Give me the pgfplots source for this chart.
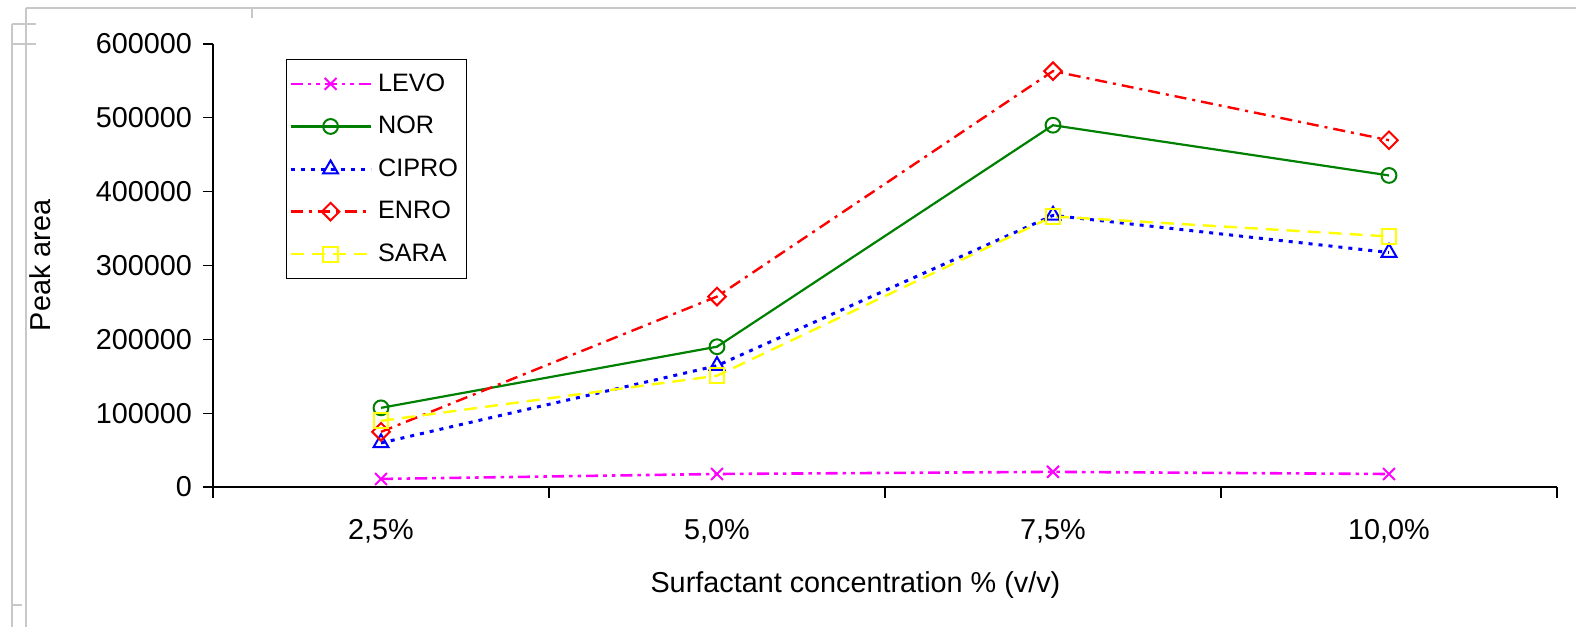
\documentclass[border=0pt]{standalone}
\usepackage{pgfplots}
\pgfplotsset{compat=1.18}
\usepackage{fontspec}
\setmainfont{Liberation Sans}
\definecolor{cMag}{HTML}{FF00FF}
\definecolor{cGreen}{HTML}{008000}
\definecolor{cBlue}{HTML}{0000FF}
\definecolor{cRed}{HTML}{FF0000}
\definecolor{cYel}{HTML}{FFFF00}
\definecolor{frame}{HTML}{C8C8C8}
\begin{document}
\begin{tikzpicture}
% frame artifacts (pixel units = 0.5pt)
\begin{scope}[x=0.5pt,y=0.5pt]
\draw[frame,line width=1pt] (26,619) -- (26,0);
\draw[frame,line width=1pt] (26,619) -- (1576,619);
\draw[frame,line width=1pt] (12,603) -- (12,0);
\draw[frame,line width=1pt] (12,603) -- (36,603);
\draw[frame,line width=1pt] (12,583) -- (36,583);
\draw[frame,line width=1pt] (12,22) -- (22,22);
\draw[frame,line width=1pt] (252,619) -- (252,609);
\end{scope}
\begin{axis}[
  at={(106.5pt,70pt)}, anchor=south west,
  scale only axis,
  width=672pt, height=221.5pt,
  xmin=-0.5, xmax=3.5, ymin=0, ymax=600000,
  axis x line*=bottom, axis y line*=left,
  axis line style={line width=0.6pt, -},
  every tick/.style={black, line width=0.6pt},
  xtick={0,1,2,3},
  xticklabels={{2,5\%},{5,0\%},{7,5\%},{10,0\%}},
  major x tick style={draw=none},
  minor xtick={-0.5,0.5,1.5,2.5,3.5},
  minor tick length=5.5pt,
  tick align=outside,
  major tick length=5pt,
  ytick={0,100000,200000,300000,400000,500000,600000},
  yticklabels={0,100000,200000,300000,400000,500000,600000},
  scaled y ticks=false,
  tick label style={font=\fontsize{14.4}{17}\selectfont},
  xticklabel style={yshift=-7.5pt},
  yticklabel style={xshift=-2pt},
  xlabel={Surfactant concentration \% (v/v)},
  ylabel={Peak area},
  label style={font=\fontsize{14.4}{17}\selectfont},
  xlabel style={at={(axis description cs:0.478,0)}, anchor=center, yshift=-49pt},
  ylabel style={at={(axis description cs:0,0.5)}, anchor=center, rotate=0, yshift=86.5pt},
  legend style={at={(axis description cs:0.054,0.966)}, anchor=north west,
    draw=black, line width=0.5pt, fill=white,
    font=\fontsize{12.6}{15}\selectfont,
    inner xsep=1.5pt, inner ysep=5pt, row sep=7pt,
    nodes={inner xsep=3pt}},
  legend cell align=left,
  legend image code/.code={\draw[mark repeat=2,mark phase=2,#1] plot coordinates {(0pt,0pt) (20pt,0pt) (40pt,0pt)};},
  clip=false,
]
\addplot[cMag, line width=1.3pt, dash pattern=on 6pt off 2.5pt on 1.8pt off 2.5pt on 1.8pt off 2.5pt, mark=x, mark size=4.2pt, mark options={solid, line width=1pt}]
 coordinates {(0,10900) (1,17600) (2,20500) (3,17600)};
\addlegendentry{LEVO}
\addplot[cGreen, line width=1.1pt, mark=o, mark size=3.7pt, mark options={solid, line width=1pt}]
 coordinates {(0,107200) (1,190000) (2,490000) (3,422000)};
\addlegendentry{NOR}
\addplot[cBlue, line width=1.5pt, dash pattern=on 2pt off 3pt, mark=triangle, mark size=4.3pt, mark options={solid, line width=1pt}]
 coordinates {(0,59700) (1,164300) (2,367900) (3,317600)};
\addlegendentry{CIPRO}
\addplot[cRed, line width=1.2pt, dash pattern=on 6pt off 3pt on 1.5pt off 3pt, mark=square, mark size=3.1pt, mark options={solid, rotate=45, line width=1pt}]
 coordinates {(0,74700) (1,257900) (2,563300) (3,469700)};
\addlegendentry{ENRO}
\addplot[cYel, line width=1.2pt, dash pattern=on 6.5pt off 4pt, mark=square, mark size=3.7pt, mark options={solid, line width=1pt}]
 coordinates {(0,89600) (1,150700) (2,366500) (3,339400)};
\addlegendentry{SARA}
\end{axis}
\pgfresetboundingbox
\useasboundingbox (0,0) rectangle (788pt,313.5pt);
\end{tikzpicture}
\end{document}
